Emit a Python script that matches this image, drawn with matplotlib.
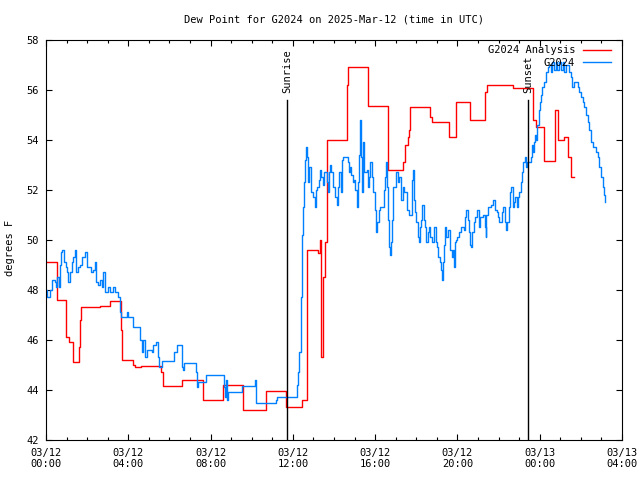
import matplotlib
matplotlib.use("Agg")
import matplotlib.pyplot as plt
from matplotlib.ticker import MultipleLocator

# ---------------- data (time in hours since 2025-03-12 00:00 UTC, dew point F) ----------------
analysis_t = [0.00, 0.54, 0.98, 1.12, 1.32, 1.61, 1.66, 1.71, 2.63, 3.12, 3.66, 3.71, 4.24, 4.34,
              4.63, 5.61, 5.71, 6.59, 7.61, 8.59, 9.56, 10.68, 11.66, 12.43, 12.67, 13.21, 13.30,
              13.35, 13.38, 13.45, 13.55, 13.65, 14.63, 14.68, 15.66, 16.63, 17.37, 17.46, 17.61,
              17.66, 17.71, 18.68, 18.78, 19.61, 19.95, 20.63, 21.32, 21.46, 22.68, 23.66, 23.80,
              24.20, 24.73, 24.88, 25.17, 25.37, 25.51, 25.66]
analysis_v = [49.1, 47.6, 46.1, 45.9, 45.1, 45.7, 46.8, 47.3, 47.35, 47.55, 46.4, 45.2, 45.0, 44.9,
              44.95, 44.7, 44.15, 44.4, 43.6, 44.2, 43.2, 43.95, 43.3, 43.6, 49.6, 49.45, 50.0,
              46.5, 45.3, 48.5, 49.9, 54.0, 56.2, 56.9, 55.35, 52.8, 53.1, 53.8, 54.1,
              54.4, 55.3, 54.9, 54.7, 54.1, 55.5, 54.8, 55.9, 56.2, 56.05, 54.8, 54.5,
              53.15, 55.2, 54.0, 54.1, 53.3, 52.5, 52.5]

obs_t = [0.00, 0.05, 0.18, 0.31, 0.42, 0.47, 0.54, 0.63, 0.67, 0.75, 0.80, 0.86, 0.96, 1.02, 1.09,
         1.15, 1.24, 1.32, 1.40, 1.48, 1.56, 1.64, 1.77, 1.89, 1.97, 2.10, 2.21, 2.29, 2.37, 2.42,
         2.54, 2.62, 2.70, 2.78, 2.86, 3.02, 3.11, 3.27, 3.35, 3.51, 3.59, 3.67, 3.92, 4.00, 4.21,
         4.57, 4.65, 4.73, 4.81, 4.89, 5.14, 5.22, 5.35, 5.46, 5.51, 5.66, 6.24, 6.39, 6.63, 6.68,
         6.73, 7.27, 7.32, 7.37, 7.76, 8.63, 8.68, 8.73, 8.78, 8.83, 9.51, 10.15, 10.22, 11.17,
         11.22, 12.20, 12.24, 12.29, 12.39, 12.44, 12.49, 12.54, 12.60, 12.66, 12.70, 12.75,
         12.80, 12.86, 12.99, 13.06, 13.12, 13.19, 13.25, 13.32, 13.38, 13.45, 13.51, 13.64,
         13.69, 13.76, 13.80, 13.87, 13.94, 14.06, 14.13, 14.20, 14.26, 14.33, 14.37, 14.45,
         14.67, 14.73, 14.78, 14.84, 14.91, 14.98, 15.04, 15.11, 15.16, 15.20, 15.24, 15.30,
         15.35, 15.40, 15.46, 15.60, 15.66, 15.72, 15.77, 15.84, 15.92, 16.00, 16.05, 16.11,
         16.18, 16.24, 16.41, 16.49, 16.54, 16.59, 16.63, 16.68, 16.73, 16.78, 16.83, 16.89,
         17.02, 17.09, 17.15, 17.28, 17.35, 17.41, 17.55, 17.63, 17.79, 17.84, 17.90, 17.95,
         18.00, 18.06, 18.11, 18.16, 18.23, 18.29, 18.36, 18.42, 18.49, 18.55, 18.62, 18.68,
         18.75, 18.88, 18.94, 19.01, 19.07, 19.14, 19.20, 19.25, 19.30, 19.37, 19.41, 19.46,
         19.53, 19.66, 19.72, 19.77, 19.82, 19.87, 19.92, 19.99, 20.07, 20.15, 20.31, 20.39,
         20.44, 20.50, 20.55, 20.60, 20.67, 20.73, 20.80, 20.86, 20.93, 21.06, 21.12, 21.25,
         21.32, 21.37, 21.41, 21.48, 21.64, 21.71, 21.84, 21.90, 21.97, 22.03, 22.16, 22.23,
         22.29, 22.36, 22.42, 22.49, 22.55, 22.62, 22.68, 22.75, 22.81, 22.88, 22.94, 23.01,
         23.07, 23.14, 23.20, 23.27, 23.32, 23.37, 23.56, 23.61, 23.66, 23.72, 23.77, 23.82,
         23.89, 23.97, 24.01, 24.08, 24.13, 24.21, 24.29, 24.38, 24.45, 24.54, 24.62, 24.70,
         24.78, 24.86, 24.94, 25.02, 25.11, 25.19, 25.27, 25.43, 25.51, 25.59, 25.67, 25.84,
         25.92, 26.00, 26.08, 26.16, 26.24, 26.33, 26.41, 26.49, 26.57, 26.73, 26.81, 26.89,
         26.98, 27.06, 27.14, 27.19]
obs_v = [48.0, 47.7, 48.0, 48.4, 48.3, 48.1, 48.5, 48.1, 49.0, 49.5, 49.6, 49.1, 48.9, 48.7, 48.3,
         48.7, 49.1, 49.3, 49.6, 48.7, 48.9, 49.0, 49.3, 49.5, 48.9, 48.9, 48.7, 48.8, 49.1, 48.3,
         48.2, 48.4, 48.1, 48.7, 47.9, 48.1, 47.9, 48.1, 47.9, 47.7, 47.1, 46.9, 47.1, 46.9, 46.5,
         46.0, 45.5, 46.0, 45.3, 45.6, 45.5, 45.8, 45.9, 45.3, 44.9, 45.15, 45.5, 45.8, 44.9, 44.8,
         45.05, 44.7, 44.1, 44.3, 44.6, 44.1, 43.7, 44.4, 43.6, 43.9, 44.15, 44.4, 43.45, 43.6,
         43.7, 44.2, 44.7, 45.5, 47.7, 50.2, 51.3, 52.3, 53.2, 53.7, 53.3, 52.3,
         52.9, 51.9, 51.7, 51.3, 52.0, 52.1, 52.4, 52.8, 52.5, 52.2, 52.7, 52.3,
         51.9, 52.7, 53.0, 52.7, 52.1, 51.7, 51.4, 52.1, 52.7, 51.9, 53.2, 53.3,
         53.1, 52.7, 52.9, 52.6, 52.3, 52.4, 52.0, 51.3, 52.3, 53.4, 54.8, 53.3,
         51.9, 53.9, 52.7, 52.8, 52.1, 52.5, 53.1, 52.5, 51.9, 51.2, 50.3, 50.7,
         51.2, 51.3, 52.0, 52.5, 53.1, 52.1, 50.8, 49.7, 49.4, 49.9, 50.8, 52.1,
         52.7, 52.3, 52.5, 51.6, 52.1, 51.9, 51.2, 51.0, 52.4, 52.8, 51.6, 51.1,
         50.7, 50.1, 49.9, 50.5, 50.8, 51.4, 50.8, 50.5, 49.9, 50.3, 50.5, 50.1,
         49.9, 50.5, 49.9, 49.7, 49.3, 49.1, 48.8, 48.4, 49.1, 49.8, 50.5, 50.1,
         50.4, 49.6, 49.3, 49.6, 48.9, 49.9, 50.0, 50.1, 50.3, 50.5, 50.4, 50.9,
         51.2, 50.8, 50.3, 49.8, 49.7, 50.3, 50.7, 50.9, 51.2, 50.5, 50.9, 51.0,
         50.5, 50.1, 51.0, 51.3, 51.4, 51.6, 51.2, 51.1, 50.9, 50.7, 51.1, 51.3,
         50.7, 50.4, 50.7, 51.3, 51.9, 52.1, 51.3, 51.5, 51.7, 51.3, 51.7, 51.9,
         52.3, 52.7, 53.1, 53.3, 52.9, 53.1, 53.3, 53.8, 53.5, 53.9, 54.2, 54.0,
         54.6, 55.2, 55.5, 55.8, 56.1, 56.3, 56.7, 56.9, 57.0, 56.7, 57.1, 56.8,
         57.1, 56.8, 57.1, 56.8, 57.1, 56.7, 57.0, 56.7, 56.5, 56.1, 56.3, 56.1,
         55.9, 55.7, 55.5, 55.3, 55.0, 54.7, 54.4, 53.9, 53.7, 53.5, 53.3, 52.9,
         52.5, 52.1, 51.8, 51.5]

sunrise_h = 11.72
sunset_h = 23.43

tick_hours = [0, 4, 8, 12, 16, 20, 24, 28]
tick_labels = ["03/12\n00:00", "03/12\n04:00", "03/12\n08:00", "03/12\n12:00",
               "03/12\n16:00", "03/12\n20:00", "03/13\n00:00", "03/13\n04:00"]

# ---------------- plotting ----------------
FS = 7.5
plt.rcParams['font.family'] = ['DejaVu Sans Mono', 'DejaVu Sans']
plt.rcParams['font.size'] = FS

fig = plt.figure(figsize=(6.4, 4.8), dpi=100)
ax = fig.add_axes([46/640, 1 - 439.5/480, 576/640, 400/480])

ax.plot(analysis_t, analysis_v, drawstyle='steps-post', color='#ff0000', lw=1.0,
        label='G2024 Analysis')
ax.plot(obs_t, obs_v, drawstyle='steps-post', color='#0080ff', lw=1.0, label='G2024')

ax.set_xlim(0, 28)
ax.set_ylim(42, 58)

for h, name in [(sunrise_h, 'Sunrise'), (sunset_h, 'Sunset')]:
    ax.plot([h, h], [42, 55.6], color='black', lw=1.0)
    ax.text(h, 55.85, name, rotation=90, ha='center', va='bottom', fontsize=FS)

ax.set_xticks(tick_hours)
ax.set_xticklabels(tick_labels)
ax.xaxis.set_minor_locator(MultipleLocator(1))
ax.yaxis.set_major_locator(MultipleLocator(2))
ax.tick_params(which='both', direction='in', top=True, right=True, width=0.8)
ax.tick_params(which='major', length=4.5)
ax.tick_params(which='minor', length=2.5)
ax.tick_params(axis='x', pad=6)
ax.tick_params(axis='y', pad=5)
for s in ax.spines.values():
    s.set_linewidth(0.8)

ax.set_ylabel('degrees F', fontsize=FS)
ax.yaxis.set_label_coords(-31/576, 0.48)
ax.set_title('Dew Point for G2024 on 2025-Mar-12 (time in UTC)', fontsize=FS, pad=12)

ax.legend(loc='upper right', bbox_to_anchor=(0.99, 1.0), frameon=False, markerfirst=False,
          handlelength=2.6, handletextpad=0.8, labelspacing=0.25, borderaxespad=0.15,
          fontsize=FS)

fig.savefig('out.png', dpi=100)
